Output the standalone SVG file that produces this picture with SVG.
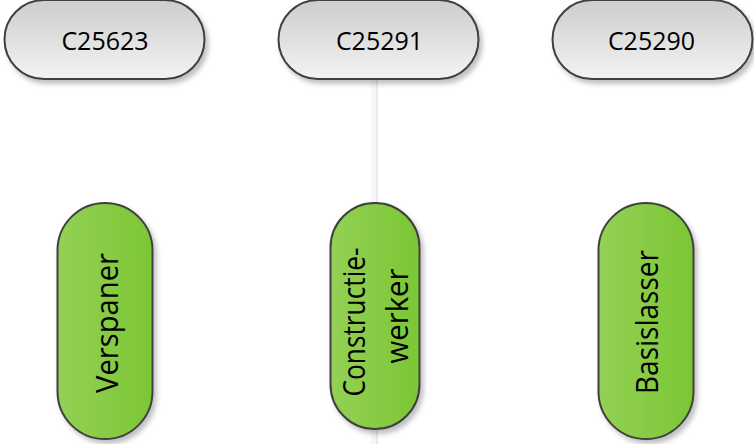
<svg xmlns="http://www.w3.org/2000/svg" width="754" height="444" viewBox="0 0 754 444">
<defs>
<linearGradient id="gGray" x1="0" y1="0" x2="0" y2="1">
<stop offset="0" stop-color="#cdcdcd"/>
<stop offset="1" stop-color="#f3f3f3"/>
</linearGradient>
<linearGradient id="gGreen" x1="0" y1="0" x2="1" y2="0">
<stop offset="0" stop-color="#93d155"/>
<stop offset="1" stop-color="#7cc634"/>
</linearGradient>
<filter id="sh" x="-20%" y="-20%" width="140%" height="140%">
<feDropShadow dx="3" dy="4" stdDeviation="2.5" flood-color="#000" flood-opacity="0.25"/>
</filter>
<style>
.top{fill:url(#gGray);stroke:#404040;stroke-width:2;filter:url(#sh)}
.bot{fill:url(#gGreen);stroke:#404040;stroke-width:2;filter:url(#sh)}
.t1{font-family:"Open Sans","Liberation Sans",sans-serif;font-size:25px;fill:#000;text-anchor:middle}
.t2{font-family:"Open Sans","Liberation Sans",sans-serif;font-size:31px;fill:#000;text-anchor:middle}
.conn{stroke:#e9e9e9;stroke-width:2;fill:none}
.connsh{stroke:#f6f6f6;stroke-width:6;fill:none}
</style>
</defs>
<g id="connectors">
<line class="connsh" x1="374" y1="80" x2="374" y2="444"/>
<line class="conn" x1="377" y1="80" x2="377" y2="444"/>
</g>
<g id="n-C25623">
<rect class="top" x="4.5" y="0" width="200" height="79" rx="39.5"/>
<text class="t1" x="105" y="50">C25623</text>
</g>
<g id="n-C25291">
<rect class="top" x="278.5" y="0" width="200" height="79" rx="39.5"/>
<text class="t1" x="379.5" y="50">C25291</text>
</g>
<g id="n-C25290">
<rect class="top" x="552.5" y="0" width="200" height="79" rx="39.5"/>
<text class="t1" x="651.5" y="50">C25290</text>
</g>
<g id="n-Verspaner">
<rect class="bot" x="57.5" y="203" width="95" height="236" rx="47.5"/>
<text class="t2" transform="translate(118,323) rotate(-90)" x="0" y="0" textLength="140" lengthAdjust="spacingAndGlyphs">Verspaner</text>
</g>
<g id="n-Constructiewerker">
<rect class="bot" x="330.5" y="203" width="89" height="226" rx="44.5"/>
<text class="t2" transform="translate(365,322) rotate(-90)" x="0" y="0" textLength="149" lengthAdjust="spacingAndGlyphs">Constructie-</text>
<text class="t2" transform="translate(408,316) rotate(-90)" x="0" y="0" textLength="95" lengthAdjust="spacingAndGlyphs">werker</text>
</g>
<g id="n-Basislasser">
<rect class="bot" x="598.5" y="203" width="95" height="236" rx="47.5"/>
<text class="t2" transform="translate(658,322) rotate(-90)" x="0" y="0" textLength="144" lengthAdjust="spacingAndGlyphs">Basislasser</text>
</g>
</svg>
